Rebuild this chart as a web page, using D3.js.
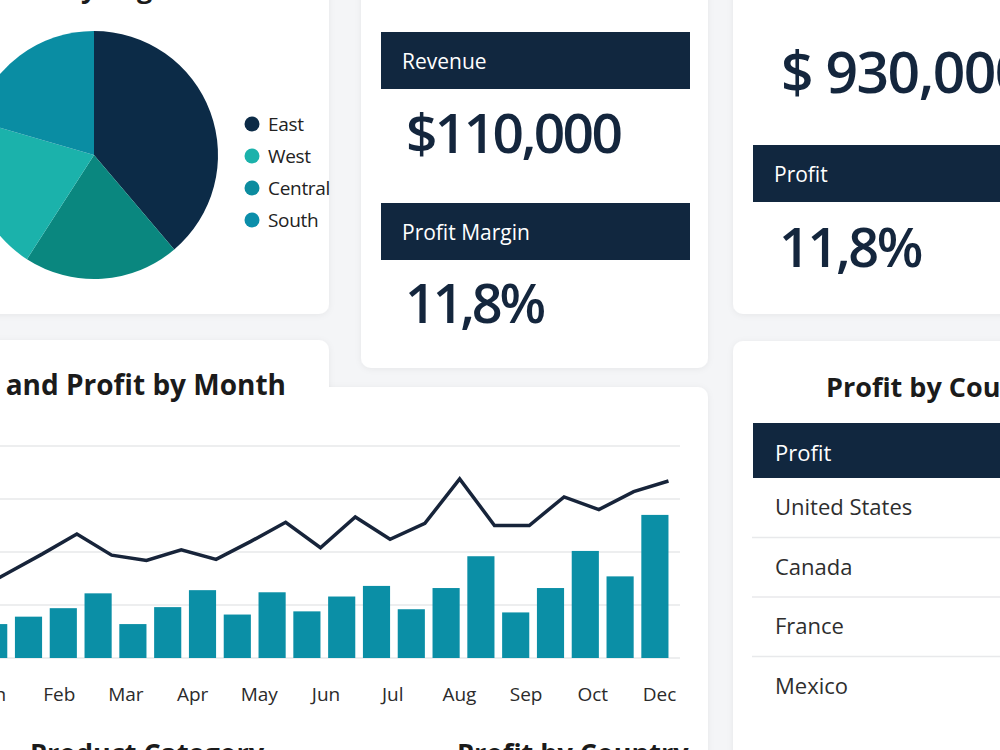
<!DOCTYPE html>
<html>
<head>
<meta charset="utf-8">
<script src="https://cdn.jsdelivr.net/npm/d3@7"></script>
<style>
  html, body { margin: 0; padding: 0; background: #f4f5f7; overflow: hidden; }
  svg { display: block; font-family: "Open Sans", "Noto Sans", sans-serif; }
</style>
</head>
<body>
<div id="dash"></div>
<script>
// data
var regions = ["East", "Central", "West", "South"];
var regionShare = [38.8, 20.3, 20.4, 20.5];
var legendRegions = ["East", "West", "Central", "South"];

var months = ["Jan", "Feb", "Mar", "Apr", "May", "Jun", "Jul", "Aug", "Sep", "Oct", "Dec"];
var revenue = [40, 32, 39, 47, 61, 32, 48, 64, 41, 62, 44, 58, 68, 46, 66, 96, 43, 66, 101, 77, 135];
var profit = [62, 80, 98, 117, 97, 92, 102, 93, 110, 128, 104, 133, 112, 127, 169, 125, 125, 152, 140, 157, 167];

var kpiLabels = ["Revenue", "Profit Margin", "Profit"];
var kpiValues = ["$110,000", "11,8%", "11,8%"];
var totalSales = "$ 930,000";

var countries = ["United States", "Canada", "France", "Mexico"];

// colours
var navy = "#11273f";
var ink = "#14263d";
var sliceColor = { East: "#0c2b47", Central: "#0a877f", West: "#1bb2ab", South: "#0a8da3" };
var dotColor = { East: "#0c2b47", West: "#1bb2ab", Central: "#0c8c9f", South: "#0b8eaa" };
var barColor = "#0b8fa6";

var svg = d3.select("#dash")
  .append("svg")
    .attr("width", 1000)
    .attr("height", 750);

var defs = svg.append("defs");
var f = defs.append("filter").attr("id", "shadow")
    .attr("x", "-10%").attr("y", "-10%").attr("width", "120%").attr("height", "120%");
f.append("feDropShadow")
    .attr("dx", 0).attr("dy", 1)
    .attr("stdDeviation", 3)
    .attr("flood-color", "#000")
    .attr("flood-opacity", 0.06);

svg.append("rect").attr("width", 1000).attr("height", 750).attr("fill", "#f4f5f7");

// cards
var cards = [
  [-20, -20, 349, 334],
  [361, -20, 347, 388],
  [733, -20, 300, 334],
  [-20, 340, 349, 430],
  [-20, 387, 728, 383],
  [733, 341, 300, 430]
];
svg.selectAll("rect.card")
  .data(cards)
  .enter()
  .append("rect")
    .attr("class", "card")
    .attr("x", d => d[0]).attr("y", d => d[1])
    .attr("width", d => d[2]).attr("height", d => d[3])
    .attr("rx", 10)
    .attr("fill", "#fff")
    .attr("filter", "url(#shadow)");
// cover the seam between the two chart cards
svg.append("rect").attr("x", -20).attr("y", 380).attr("width", 349).attr("height", 30).attr("fill", "#fff");

// ---------- pie ----------
svg.append("text")
    .attr("x", -12).attr("y", -2)
    .attr("font-size", 27).attr("font-weight", 700).attr("fill", "#1b1b1b")
    .text("Sales by Region");

var pie = d3.pie().sort(null).value(d => d.v)(regions.map((r, i) => ({ r: r, v: regionShare[i] })));
var arc = d3.arc().innerRadius(0).outerRadius(124);
var pg = svg.append("g").attr("transform", "translate(94,155)");
pg.selectAll("path")
  .data(pie)
  .enter()
  .append("path")
    .attr("d", arc)
    .attr("fill", d => sliceColor[d.data.r]);

var leg = svg.append("g").attr("transform", "translate(252,124)");
var legItem = leg.selectAll("g")
  .data(legendRegions)
  .enter()
  .append("g")
    .attr("transform", (d, i) => "translate(0," + i * 32 + ")");
legItem.append("circle").attr("r", 7.5).attr("fill", d => dotColor[d]);
legItem.append("text")
    .attr("x", 16).attr("dy", "0.35em")
    .attr("font-size", 19).attr("fill", "#222")
    .attr("letter-spacing", -0.3)
    .text(d => d);

// ---------- KPI cards ----------
var kpiBoxes = [
  { x: 381, y: 32, w: 309, vx: 406, vy: 153, size: 55, ls: -2.6 },
  { x: 381, y: 203, w: 309, vx: 405, vy: 323, size: 54, ls: -3.2 },
  { x: 753, y: 145, w: 260, vx: 779, vy: 267, size: 54, ls: -2.4 }
];
kpiBoxes.forEach(function(b, i) {
  svg.append("rect")
      .attr("x", b.x).attr("y", b.y).attr("width", b.w).attr("height", 57)
      .attr("fill", navy);
  svg.append("text")
      .attr("x", b.x + 21).attr("y", b.y + 37)
      .attr("font-size", 21).attr("fill", "#fff")
      .text(kpiLabels[i]);
  svg.append("text")
      .attr("x", b.vx).attr("y", b.vy)
      .attr("font-size", b.size).attr("font-weight", 600).attr("fill", ink)
      .attr("letter-spacing", b.ls)
      .text(kpiValues[i]);
});
svg.append("text")
    .attr("x", 781).attr("y", 93)
    .attr("font-size", 57).attr("font-weight", 600).attr("fill", ink)
    .attr("letter-spacing", -1.5)
    .text(totalSales);

// ---------- revenue and profit by month ----------
svg.append("text")
    .attr("x", 286).attr("y", 395)
    .attr("text-anchor", "end")
    .attr("font-size", 28).attr("font-weight", 700).attr("fill", "#1b1b1b")
    .text("Revenue and Profit by Month");

var xBar = d3.scaleBand()
    .domain(d3.range(revenue.length))
    .range([-58.5, 672.3])
    .paddingInner(0.22)
    .paddingOuter(0.11);

var yScale = d3.scaleLinear()
    .domain([0, 200])
    .range([658, 446]);

var xMonth = d3.scalePoint()
    .domain(months)
    .range([-8, 659]);

var chart = svg.append("g");

chart.append("g")
  .selectAll("line")
  .data(yScale.ticks(4))
  .enter()
  .append("line")
    .attr("x1", -20).attr("x2", 680)
    .attr("y1", d => yScale(d)).attr("y2", d => yScale(d))
    .style("stroke", "#e7e8ea")
    .style("stroke-width", 1.5);

chart.append("g")
  .selectAll("rect")
  .data(revenue)
  .enter()
  .append("rect")
    .attr("x", (d, i) => xBar(i))
    .attr("y", d => yScale(d))
    .attr("width", xBar.bandwidth())
    .attr("height", d => yScale(0) - yScale(d))
    .attr("fill", barColor);

var line = d3.line()
    .x((d, i) => xBar(i) + xBar.bandwidth())
    .y(d => yScale(d));

chart.append("path")
    .datum(profit)
    .attr("d", line)
    .attr("fill", "none")
    .style("stroke", "#17243a")
    .style("stroke-width", 3.5)
    .style("stroke-linejoin", "miter");

var xAxis = chart.append("g")
    .attr("transform", "translate(0,684)")
    .call(d3.axisBottom(xMonth).tickSize(0));
xAxis.select(".domain").remove();
xAxis.selectAll("text")
    .attr("font-family", "Open Sans, sans-serif")
    .style("font-size", "19px")
    .attr("fill", "#2b2b2b");

// titles of the cards below, cut by the bottom edge
svg.append("text")
    .attr("x", 30).attr("y", 763)
    .attr("font-size", 27).attr("font-weight", 700).attr("fill", "#1b1b1b")
    .text("Product Category");
svg.append("text")
    .attr("x", 457).attr("y", 763)
    .attr("font-size", 27).attr("font-weight", 700).attr("fill", "#1b1b1b")
    .text("Profit by Country");

// ---------- profit by country table ----------
svg.append("text")
    .attr("x", 826).attr("y", 397)
    .attr("font-size", 27).attr("font-weight", 700).attr("fill", "#1b1b1b")
    .text("Profit by Country");

svg.append("rect")
    .attr("x", 753).attr("y", 423).attr("width", 260).attr("height", 55)
    .attr("fill", navy);
svg.append("text")
    .attr("x", 775).attr("y", 461)
    .attr("font-size", 22).attr("fill", "#fff")
    .text("Profit");

var yRow = d3.scaleBand()
    .domain(countries)
    .range([478, 478 + 59.5 * countries.length]);

svg.append("g")
  .selectAll("line")
  .data(countries.slice(0, -1))
  .enter()
  .append("line")
    .attr("x1", 752).attr("x2", 1000)
    .attr("y1", d => yRow(d) + yRow.bandwidth())
    .attr("y2", d => yRow(d) + yRow.bandwidth())
    .style("stroke", "#e8e9eb")
    .style("stroke-width", 1.5);

svg.append("g")
  .selectAll("text")
  .data(countries)
  .enter()
  .append("text")
    .attr("x", 775)
    .attr("y", d => yRow(d) + yRow.bandwidth() / 2)
    .attr("dy", "0.35em")
    .attr("font-size", 22).attr("fill", "#2e2e2e")
    .text(d => d);
</script>
</body>
</html>
